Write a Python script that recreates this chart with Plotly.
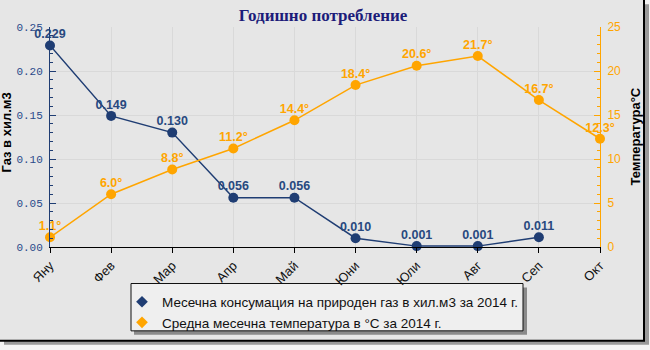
import plotly.graph_objects as go

# Monthly data for 2014
months = ["Яну", "Фев", "Мар", "Апр", "Май", "Юни", "Юли", "Авг", "Сеп", "Окт"]
gas_consumption = [0.229, 0.149, 0.130, 0.056, 0.056, 0.010, 0.001, 0.001, 0.011, None]
avg_temperature = [1.1, 6.0, 8.8, 11.2, 14.4, 18.4, 20.6, 21.7, 16.7, 12.3]

gas_name = "Месечна консумация на природен газ в хил.м3 за 2014 г."
temp_name = "Средна месечна температура в °C за 2014 г."

GAS = "#1f3d73"
GAS_TEXT = "#28497f"
TEMP = "#ffa500"
BG = "#e6e6e6"
GRID = "#d9d9d9"
FONT = "Liberation Sans"

W, H = 650, 350
L, R, T, B = 50, 50, 27, 100
PW, PH = W - L - R, H - T - B


def px_x(px):
    return (px - L) / PW


def px_y(py):
    return (H - B - py) / PH


gas_text = [f"{v:.3f}" if v is not None else "" for v in gas_consumption]
temp_text = [f"{v:.1f}°" for v in avg_temperature]

fig = go.Figure()

# Lines with markers
fig.add_trace(go.Scatter(
    x=months, y=gas_consumption, mode="lines+markers",
    line=dict(color=GAS, width=1.5), marker=dict(color=GAS, size=10),
    showlegend=False, cliponaxis=False,
))
fig.add_trace(go.Scatter(
    x=months, y=avg_temperature, mode="lines+markers", yaxis="y2",
    line=dict(color=TEMP, width=1.5), marker=dict(color=TEMP, size=10),
    showlegend=False, cliponaxis=False,
))

# Value labels above the points (transparent small markers set the offset)
fig.add_trace(go.Scatter(
    x=months, y=gas_consumption, mode="markers+text", text=gas_text,
    textposition="top center", marker=dict(size=5, opacity=0),
    textfont=dict(family=FONT, size=12.5, color=GAS_TEXT, weight="bold"),
    showlegend=False, cliponaxis=False, hoverinfo="skip",
))
fig.add_trace(go.Scatter(
    x=months, y=avg_temperature, mode="markers+text", yaxis="y2", text=temp_text,
    textposition="top center", marker=dict(size=5, opacity=0),
    textfont=dict(family=FONT, size=12.5, color=TEMP, weight="bold"),
    showlegend=False, cliponaxis=False, hoverinfo="skip",
))

# Legend entries (diamond symbols)
fig.add_trace(go.Scatter(x=[None], y=[None], mode="markers", name=gas_name,
                         marker=dict(color=GAS, symbol="diamond", size=9)))
fig.add_trace(go.Scatter(x=[None], y=[None], mode="markers", name=temp_name,
                         marker=dict(color=TEMP, symbol="diamond", size=9)))

shapes = [
    # outer frame shadow and border
    dict(type="rect", xref="paper", yref="paper", layer="below",
         x0=px_x(4), x1=px_x(649), y0=px_y(4), y1=px_y(349),
         fillcolor="#9a9a9a", line=dict(width=0)),
    dict(type="rect", xref="paper", yref="paper", layer="below",
         x0=px_x(-5), x1=px_x(644), y0=px_y(-5), y1=px_y(345),
         fillcolor=BG, line=dict(color="#000000", width=2)),
    # legend box with shadow
    dict(type="rect", xref="paper", yref="paper", layer="below",
         x0=px_x(134), x1=px_x(527), y0=px_y(291), y1=px_y(339),
         fillcolor="#8a8a8a", line=dict(width=0)),
    dict(type="rect", xref="paper", yref="paper", layer="below",
         x0=px_x(131), x1=px_x(523), y0=px_y(287), y1=px_y(335),
         fillcolor="#efefef", line=dict(color="#111111", width=1)),
]

annotations = [
    dict(text="<b>Газ в хил.м3</b>", xref="paper", yref="paper",
         x=px_x(7), y=px_y(134), xanchor="center", yanchor="middle",
         textangle=-90, showarrow=False,
         font=dict(family=FONT, size=13, color="#000000")),
    dict(text="<b>Температура°C</b>", xref="paper", yref="paper",
         x=px_x(636), y=px_y(138), xanchor="center", yanchor="middle",
         textangle=-90, showarrow=False,
         font=dict(family=FONT, size=13, color="#000000")),
]

fig.update_layout(
    width=W, height=H,
    margin=dict(l=L, r=R, t=T, b=B, pad=0),
    paper_bgcolor="#f4f4f4", plot_bgcolor="#ffffff",
    title=dict(text="<b>Годишно потребление</b>", x=0.497, xanchor="center",
               y=1 - 15 / H, yanchor="middle",
               font=dict(family="Liberation Serif", size=17, color="#1c1c7a")),
    xaxis=dict(type="category", range=[0, 9], showgrid=True, gridcolor=GRID,
               showline=True, linecolor="#000000", linewidth=1,
               ticks="outside", ticklen=5, tickcolor="#000000",
               tickangle=-45, tickfont=dict(family=FONT, size=13, color="#111111"),
               zeroline=False),
    yaxis=dict(range=[0, 0.25], dtick=0.05, tickformat=".2f",
               showgrid=True, gridcolor=GRID, zeroline=False,
               showline=True, linecolor=GAS, linewidth=1,
               ticks="inside", ticklen=6, tickcolor=GAS,
               minor=dict(dtick=0.01, ticks="inside", ticklen=3, tickcolor=GAS, showgrid=False),
               tickfont=dict(family="Liberation Mono", size=11, color="#2a4a8a"),
               ticklabelstandoff=4),
    yaxis2=dict(range=[0, 25], dtick=5, overlaying="y", side="right",
                showgrid=False, zeroline=False,
                showline=True, linecolor=TEMP, linewidth=1,
                ticks="inside", ticklen=6, tickcolor=TEMP,
                minor=dict(dtick=1, ticks="inside", ticklen=3, tickcolor=TEMP),
                tickfont=dict(family=FONT, size=12, color=TEMP),
                ticklabelstandoff=4),
    legend=dict(x=px_x(122), y=px_y(290), xanchor="left", yanchor="top",
                bgcolor="rgba(0,0,0,0)", borderwidth=0, tracegroupgap=0,
                font=dict(family=FONT, size=13.5, color="#111111")),
    shapes=shapes,
    annotations=annotations,
)

fig.write_html("out.html")
